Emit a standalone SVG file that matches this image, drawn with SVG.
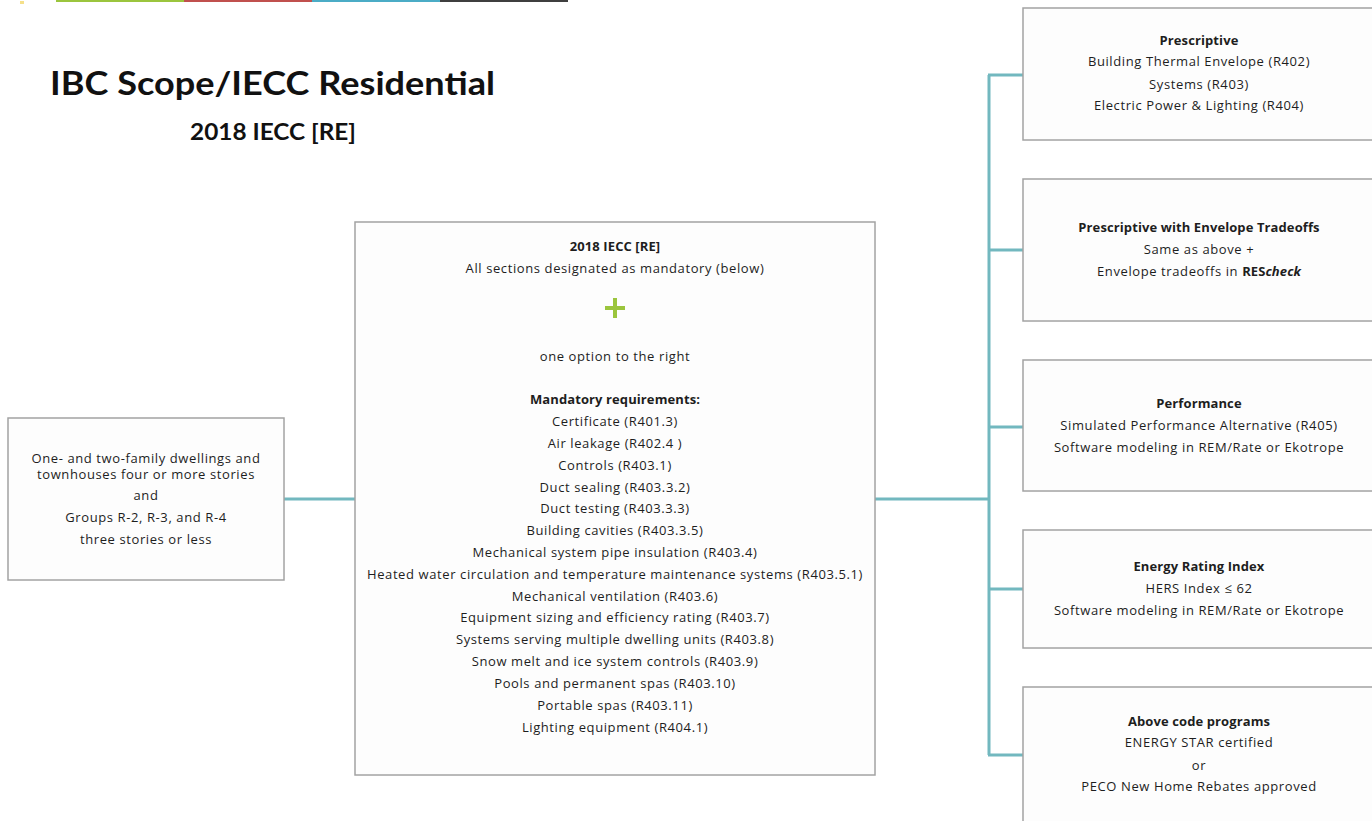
<svg xmlns="http://www.w3.org/2000/svg" width="1372" height="821" viewBox="0 0 1372 821">
<style>
.box{fill:#fdfdfd;stroke:#a3a3a3;stroke-width:1.5}
.t{font-family:"Open Sans","Liberation Sans",Arial,sans-serif;font-size:13px;letter-spacing:0.6px;fill:#1e1e1e;text-anchor:middle}
.b{font-weight:bold;letter-spacing:0.1px}
.con{stroke:#72b8bf;stroke-width:3;fill:none}
</style>
<rect width="1372" height="821" fill="#ffffff"/>
<g id="topbar">
<rect x="56" y="0" width="128" height="2" fill="#9bc53d"/>
<rect x="184" y="0" width="128" height="2" fill="#c0504d"/>
<rect x="312" y="0" width="128" height="2" fill="#4bacc6"/>
<rect x="440" y="0" width="128" height="2" fill="#3f3f3f"/>
<rect x="20" y="1" width="4" height="3" fill="#f5e08a"/>
</g>
<g id="title">
<text x="50" y="95" font-family="Lato,'Liberation Sans',sans-serif" font-size="32" font-weight="bold" fill="#111" textLength="445" lengthAdjust="spacingAndGlyphs">IBC Scope/IECC Residential</text>
<text x="190" y="140" font-family="Lato,'Liberation Sans',sans-serif" font-size="22" font-weight="bold" fill="#111" textLength="166" lengthAdjust="spacingAndGlyphs">2018 IECC [RE]</text>
</g>
<g id="connectors">
<line class="con" x1="284" y1="499" x2="355" y2="499"/>
<line class="con" x1="875" y1="499" x2="989" y2="499"/>
<line class="con" x1="989" y1="75" x2="989" y2="755"/>
<line class="con" x1="988" y1="75" x2="1023" y2="75"/>
<line class="con" x1="988" y1="250" x2="1023" y2="250"/>
<line class="con" x1="988" y1="427" x2="1023" y2="427"/>
<line class="con" x1="988" y1="589" x2="1023" y2="589"/>
<line class="con" x1="988" y1="755" x2="1023" y2="755"/>
</g>
<g id="scope">
<rect class="box" x="8" y="418" width="276" height="162"/>
<text class="t" x="146" y="463">One- and two-family dwellings and</text>
<text class="t" x="146" y="479">townhouses four or more stories</text>
<text class="t" x="146" y="500">and</text>
<text class="t" x="146" y="522">Groups R-2, R-3, and R-4</text>
<text class="t" x="146" y="544">three stories or less</text>
</g>
<g id="iecc">
<rect class="box" x="355" y="222" width="520" height="553"/>
<text class="t b" x="615" y="251">2018 IECC [RE]</text>
<text class="t" x="615" y="273">All sections designated as mandatory  (below)</text>
<path d="M605 308h20M615 298v20" stroke="#9bc53d" stroke-width="4" fill="none"/>
<text class="t" x="615" y="361">one  option to the right</text>
<text class="t b" x="615" y="404">Mandatory requirements:</text>
<text class="t" x="615" y="426">Certificate (R401.3)</text>
<text class="t" x="615" y="448">Air leakage (R402.4 )</text>
<text class="t" x="615" y="470">Controls  (R403.1)</text>
<text class="t" x="615" y="492">Duct sealing (R403.3.2)</text>
<text class="t" x="615" y="513">Duct testing (R403.3.3)</text>
<text class="t" x="615" y="535">Building cavities (R403.3.5)</text>
<text class="t" x="615" y="557">Mechanical system pipe insulation (R403.4)</text>
<text class="t" x="615" y="579">Heated water circulation and  temperature maintenance systems (R403.5.1)</text>
<text class="t" x="615" y="601">Mechanical ventilation (R403.6)</text>
<text class="t" x="615" y="622">Equipment sizing and efficiency rating  (R403.7)</text>
<text class="t" x="615" y="644">Systems serving multiple dwelling units (R403.8)</text>
<text class="t" x="615" y="666">Snow melt and ice system controls  (R403.9)</text>
<text class="t" x="615" y="688">Pools and permanent spas (R403.10)</text>
<text class="t" x="615" y="710">Portable spas  (R403.11)</text>
<text class="t" x="615" y="732">Lighting equipment (R404.1)</text>
</g>
<g id="prescriptive">
<rect class="box" x="1023" y="8" width="360" height="132"/>
<text class="t b" x="1199" y="45">Prescriptive</text>
<text class="t" x="1199" y="66">Building Thermal Envelope (R402)</text>
<text class="t" x="1199" y="89">Systems (R403)</text>
<text class="t" x="1199" y="110">Electric Power &amp; Lighting (R404)</text>
</g>
<g id="tradeoffs">
<rect class="box" x="1023" y="179" width="360" height="142"/>
<text class="t b" x="1199" y="232">Prescriptive with Envelope  Tradeoffs</text>
<text class="t" x="1199" y="254">Same as above +</text>
<text class="t" x="1199" y="276">Envelope tradeoffs in <tspan font-weight="bold" letter-spacing="0.1">RES</tspan><tspan font-weight="bold" font-style="italic" letter-spacing="0.1">check</tspan></text>
</g>
<g id="performance">
<rect class="box" x="1023" y="360" width="360" height="131"/>
<text class="t b" x="1199" y="408">Performance</text>
<text class="t" x="1199" y="430">Simulated Performance Alternative (R405)</text>
<text class="t" x="1199" y="452">Software modeling in REM/Rate or Ekotrope</text>
</g>
<g id="eri">
<rect class="box" x="1023" y="530" width="360" height="118"/>
<text class="t b" x="1199" y="571">Energy Rating Index</text>
<text class="t" x="1199" y="593">HERS Index ≤ 62</text>
<text class="t" x="1199" y="615">Software modeling in REM/Rate or Ekotrope</text>
</g>
<g id="abovecode">
<rect class="box" x="1023" y="687" width="360" height="150"/>
<text class="t b" x="1199" y="726">Above code programs</text>
<text class="t" x="1199" y="747">ENERGY STAR certified</text>
<text class="t" x="1199" y="770">or</text>
<text class="t" x="1199" y="791">PECO New Home Rebates approved</text>
</g>
</svg>
